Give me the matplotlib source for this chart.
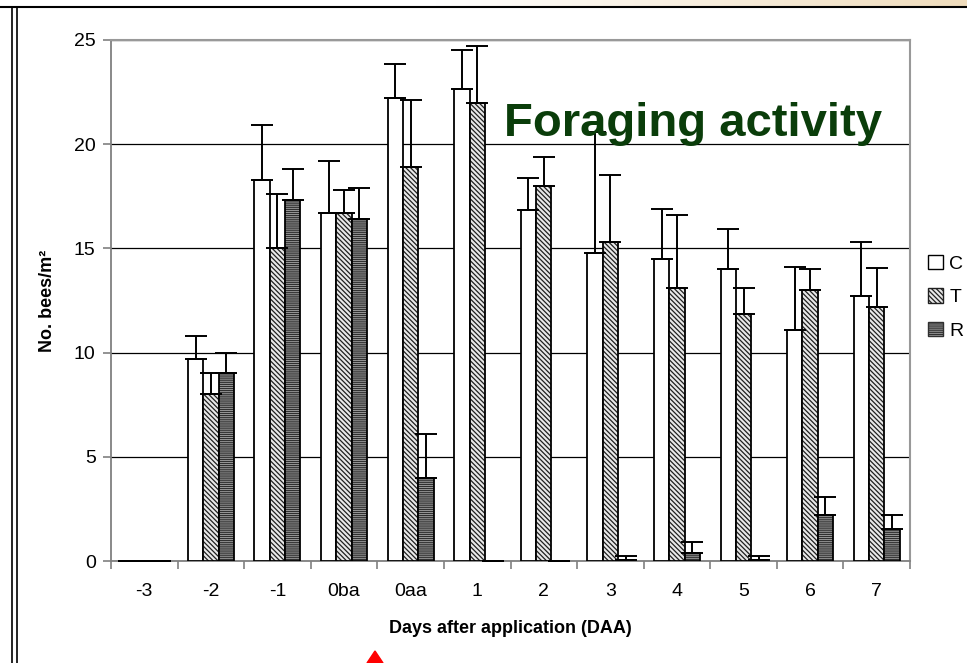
import numpy as np
import matplotlib
matplotlib.use('Agg')
import matplotlib.pyplot as plt
from matplotlib.patches import Patch, Polygon
from matplotlib.lines import Line2D

plt.rcParams['font.family'] = ['Liberation Sans', 'DejaVu Sans']
plt.rcParams['hatch.linewidth'] = 0.9

# Daten
days = ['-3', '-2', '-1', '0ba', '0aa', '1', '2', '3', '4', '5', '6', '7']
c_mean = [0, 9.7, 18.3, 16.7, 22.2, 22.65, 16.85, 14.8, 14.5, 14.0, 11.1, 12.7]
c_se = [0, 1.1, 2.6, 2.5, 1.65, 1.85, 1.55, 5.8, 2.4, 1.95, 3.0, 2.6]
t_mean = [0, 8.0, 15.0, 16.7, 18.9, 22.0, 18.0, 15.3, 13.1, 11.85, 13.0, 12.2]
t_se = [0, 1.0, 2.6, 1.1, 3.2, 2.7, 1.4, 3.2, 3.5, 1.25, 1.0, 1.85]
r_mean = [0, 9.0, 17.3, 16.4, 4.0, 0, 0, 0.05, 0.4, 0.05, 2.2, 1.55]
r_se = [0, 1.0, 1.5, 1.5, 2.1, 0, 0, 0.2, 0.5, 0.2, 0.87, 0.65]
series = ['C', 'T', 'R']

fig = plt.figure(figsize=(9.67, 6.63), dpi=100)
ax = fig.add_axes([111/967, 1-561/663, 799/967, 521/663])

x = np.arange(len(days))
w = 0.23

# C: weiss
ax.bar(x - w, c_mean, w, color='white', edgecolor='black', linewidth=1.3, zorder=3)
# T: diagonal schraffiert
ax.bar(x, t_mean, w, color='#e8e8e8', edgecolor='#202020', hatch='\\\\\\\\\\\\\\', linewidth=0, zorder=3)
ax.bar(x, t_mean, w, fill=False, edgecolor='black', linewidth=1.3, zorder=3)
# R: horizontal schraffiert
ax.bar(x + w, r_mean, w, color='#a8a8a8', edgecolor='#303030', hatch='--------', linewidth=0, zorder=3)
ax.bar(x + w, r_mean, w, fill=False, edgecolor='black', linewidth=1.3, zorder=3)

for off, m, s in [(-w, c_mean, c_se), (0, t_mean, t_se), (w, r_mean, r_se)]:
    ax.errorbar(x + off, m, yerr=[np.zeros(len(m)), s], fmt='none', ecolor='black',
                elinewidth=1.4, capsize=8, capthick=1.4, zorder=4)

ax.set_xlim(-0.5, len(days) - 0.5)
ax.set_ylim(0, 25)
ax.set_yticks([0, 5, 10, 15, 20, 25])
ax.yaxis.grid(True, color='black', linewidth=0.9, zorder=0)
ax.set_axisbelow(True)

ax.set_xticks(x)
ax.set_xticklabels(days)
ax.set_xticks(np.arange(-0.5, len(days)), minor=True)
ax.tick_params(axis='x', which='major', length=0, pad=16, labelsize=14)
ax.tick_params(axis='x', which='minor', length=6, width=1.2, direction='out', color='#808080')
ax.tick_params(axis='y', length=6, width=1.2, direction='out', color='#808080', pad=5, labelsize=14)

for sp in ['top', 'right']:
    ax.spines[sp].set_color('#999999')
    ax.spines[sp].set_linewidth(1.5)
for sp in ['left', 'bottom']:
    ax.spines[sp].set_color('#808080')
    ax.spines[sp].set_linewidth(1.3)

ax.set_xlabel('Days after application (DAA)', fontsize=13, fontweight='bold')
ax.xaxis.set_label_coords(0.5, -(620-561)/521)
ax.set_ylabel('No. bees/m²', fontsize=13, fontweight='bold')
ax.yaxis.set_label_coords(-(111-56)/799, 0.5)

ax.text((504-111)/799, (561-136)/521, 'Foraging activity', transform=ax.transAxes,
        fontsize=34, fontweight='bold', color='#0a3d0a', ha='left', va='baseline', zorder=10)

handles = [Patch(facecolor='white', edgecolor='black', linewidth=1),
           Patch(facecolor='#e8e8e8', edgecolor='#202020', hatch='\\\\\\\\\\\\\\', linewidth=1),
           Patch(facecolor='#a8a8a8', edgecolor='#303030', hatch='--------', linewidth=1)]
fig.legend(handles, series, loc='upper left', bbox_to_anchor=(928/967, 1-255/663),
           frameon=False, fontsize=14, handlelength=0.75, handleheight=0.75,
           handletextpad=0.35, labelspacing=0.8, borderaxespad=0, borderpad=0)

# Rahmen der Folie
grad = np.linspace(0, 1, 256).reshape(1, -1)
gax = fig.add_axes([0.45, 1-7/663, 0.55, 7/663])
gax.imshow(grad, aspect='auto', cmap=matplotlib.colors.LinearSegmentedColormap.from_list(
    'b', ['#ffffff', '#efdcbc']))
gax.axis('off')
fig.add_artist(Line2D([0, 1], [1-7/663, 1-7/663], color='black', linewidth=1.5))
fig.add_artist(Line2D([12/967, 12/967], [0, 1-7/663], color='black', linewidth=1.2))
fig.add_artist(Line2D([17/967, 17/967], [0, 1-7/663], color='black', linewidth=1.2))
fig.add_artist(Polygon([[367/967, 0], [383/967, 0], [375/967, 12/663]],
                       closed=True, color='red', transform=fig.transFigure))

fig.savefig('out.png', dpi=100)
